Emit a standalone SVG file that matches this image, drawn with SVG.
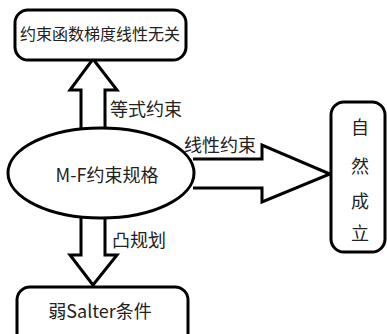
<svg xmlns="http://www.w3.org/2000/svg" width="387" height="334" viewBox="0 0 387 334">
<style>
.s{fill:#fff;stroke:#000;stroke-width:3;stroke-linejoin:miter}
.t{font-family:"Noto Sans CJK SC","Noto Sans",sans-serif;fill:#222;font-size:18px}
</style>
<rect width="387" height="334" fill="#fff"/>
<g id="connectors">
<path class="s" d="M81,129 V90 H70 L93,59 L117,90 H105 V129"/>
<path class="s" d="M193,159 H262 V145 L330,174 L262,202 V188 H193"/>
<path class="s" d="M81,218 V255 H70 L93,285 L117,255 H105 V218"/>
<text class="t" x="110" y="116">等式约束</text>
<text class="t" x="184" y="152">线性约束</text>
<text class="t" x="112" y="247">凸规划</text>
</g>
<g id="n1"><rect class="s" x="15" y="10" width="171" height="50" rx="13"/><text class="t" x="100" y="40" text-anchor="middle" style="font-size:16px">约束函数梯度线性无关</text></g>
<g id="n2"><ellipse class="s" cx="101" cy="173" rx="93" ry="45"/><text class="t" x="107" y="182" text-anchor="middle">M-F约束规格</text></g>
<g id="n3"><rect class="s" x="331" y="102" width="54" height="150" rx="13"/>
<text class="t" x="360" y="134" text-anchor="middle">自</text>
<text class="t" x="360" y="173" text-anchor="middle">然</text>
<text class="t" x="360" y="208" text-anchor="middle">成</text>
<text class="t" x="360" y="240" text-anchor="middle">立</text></g>
<g id="n4"><rect class="s" x="17" y="287" width="171" height="60" rx="13"/><text class="t" x="100" y="318" text-anchor="middle">弱Salter条件</text></g>
</svg>
